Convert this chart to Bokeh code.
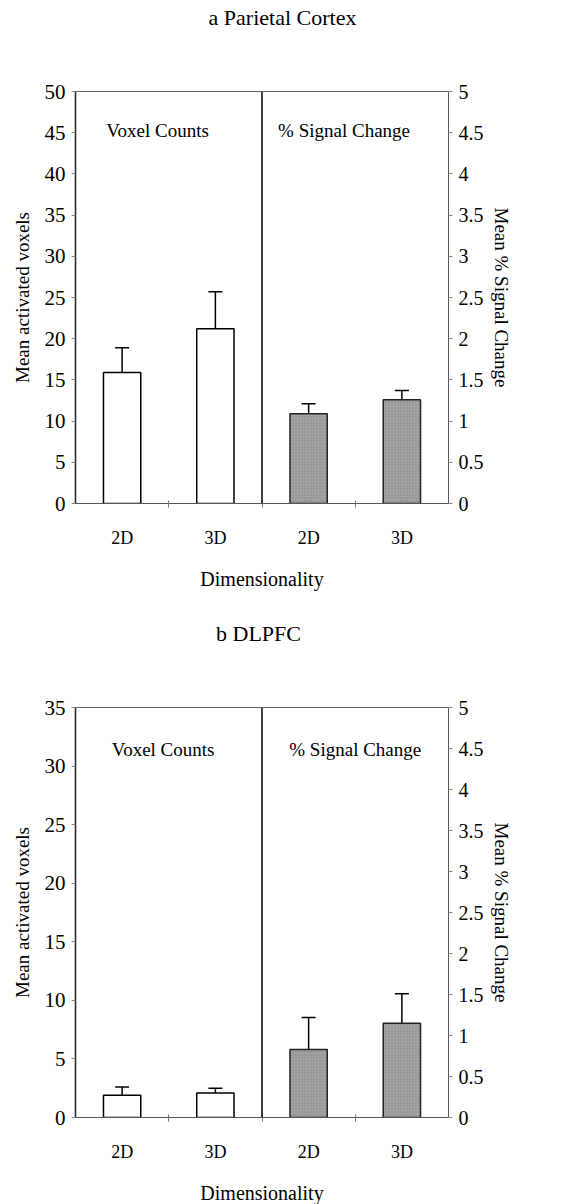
from bokeh.plotting import figure
from bokeh.models import (Range1d, LinearAxis, FixedTicker, Span, Label, Whisker,
                          TeeHead, ColumnDataSource, CustomJSTickFormatter)
from bokeh.core.properties import value
from bokeh.layouts import column
from bokeh.embed import file_html
from bokeh.resources import INLINE

# ---------------- data ----------------
categories = ["2D", "3D", "2D", "3D"]
panel_titles = ["a Parietal Cortex", "b DLPFC"]
panel_texts = ["Voxel Counts", "% Signal Change"]
x_label = "Dimensionality"
left_label = "Mean activated voxels"
right_label = "Mean % Signal Change"

# panel a: Parietal Cortex
a_voxels = [15.9, 21.2]
a_voxels_se = [3.0, 4.5]
a_signal = [1.09, 1.26]
a_signal_se = [0.12, 0.11]
a_left_ticks = [0, 5, 10, 15, 20, 25, 30, 35, 40, 45, 50]

# panel b: DLPFC
b_voxels = [1.9, 2.1]
b_voxels_se = [0.7, 0.4]
b_signal = [0.83, 1.15]
b_signal_se = [0.39, 0.36]
b_left_ticks = [0, 5, 10, 15, 20, 25, 30, 35]

right_ticks = [0, 0.5, 1, 1.5, 2, 2.5, 3, 3.5, 4, 4.5, 5]

FONT = "Liberation Serif"
W = 580
FRAME_LEFT = 75
FRAME_W = 373


def make_title(text, height, cx):
    # frame spans the same horizontal extent as the chart frames (page px coords)
    t = figure(frame_width=FRAME_W, frame_height=height,
               x_range=Range1d(FRAME_LEFT, FRAME_LEFT + FRAME_W),
               y_range=Range1d(0, height), output_backend="svg", toolbar_location=None,
               x_axis_location=None, y_axis_location=None,
               min_border_left=FRAME_LEFT, min_border_right=W - FRAME_LEFT - FRAME_W,
               min_border_top=0, min_border_bottom=0,
               background_fill_color="white", border_fill_color="white")
    t.outline_line_color = None
    t.grid.visible = False
    t.text(x=[cx], y=[height / 2], text=[text], text_font=value(FONT),
           text_font_size=value("22px"), text_align="center",
           text_baseline="middle", text_color="black")
    return t


def make_panel(voxels, voxels_se, signal, signal_se, left_ticks,
               frame_h, border_top, border_bottom, txt_pos):
    n = len(categories)
    xs = [i + 0.5 for i in range(n)]
    p = figure(frame_width=FRAME_W, frame_height=frame_h,
               x_range=Range1d(0, n), y_range=Range1d(0, left_ticks[-1]),
               output_backend="svg", toolbar_location=None,
               min_border_left=FRAME_LEFT, min_border_right=W - FRAME_LEFT - FRAME_W,
               min_border_top=border_top, min_border_bottom=border_bottom,
               background_fill_color="white", border_fill_color="white")
    p.extra_y_ranges = {"right": Range1d(0, right_ticks[-1])}
    p.grid.visible = False
    p.outline_line_color = "#666666"
    p.outline_line_width = 1

    # x axis
    xa = p.xaxis[0]
    xa.ticker = FixedTicker(ticks=xs, minor_ticks=[1, 2, 3])
    xa.formatter = CustomJSTickFormatter(args=dict(labels=categories),
                                         code="return labels[index];")
    xa.major_tick_line_color = None
    xa.major_tick_out = 0
    xa.major_tick_in = 0
    xa.minor_tick_line_color = "#777777"
    xa.minor_tick_out = 4
    xa.minor_tick_in = 3
    xa.axis_line_color = "#555555"
    xa.axis_line_width = 1
    xa.major_label_standoff = 20
    xa.major_label_text_font = FONT
    xa.major_label_text_font_size = "18px"
    xa.major_label_text_color = "black"
    xa.axis_label = x_label
    xa.axis_label_text_font = FONT
    xa.axis_label_text_font_size = "20px"
    xa.axis_label_text_font_style = "normal"
    xa.axis_label_text_color = "black"
    xa.axis_label_standoff = 17

    # left axis
    ya = p.yaxis[0]
    ya.ticker = FixedTicker(ticks=left_ticks)
    ya.minor_tick_line_color = None
    ya.major_tick_out = 4
    ya.major_tick_in = 0
    ya.major_tick_line_color = "#888888"
    ya.axis_line_color = "#222222"
    ya.axis_line_width = 1.5
    ya.major_label_standoff = 6
    ya.major_label_text_font = FONT
    ya.major_label_text_font_size = "21px"
    ya.major_label_text_color = "black"
    ya.axis_label = left_label
    ya.axis_label_text_font = FONT
    ya.axis_label_text_font_size = "19px"
    ya.axis_label_text_font_style = "normal"
    ya.axis_label_text_color = "black"
    ya.axis_label_standoff = 9

    # right axis
    ra = LinearAxis(y_range_name="right", ticker=FixedTicker(ticks=right_ticks),
                    formatter=CustomJSTickFormatter(code="return tick.toString();"))
    ra.minor_tick_line_color = None
    ra.major_tick_out = 4
    ra.major_tick_in = 0
    ra.major_tick_line_color = "#888888"
    ra.axis_line_color = "#555555"
    ra.axis_line_width = 1
    ra.major_label_standoff = 6
    ra.major_label_text_font = FONT
    ra.major_label_text_font_size = "20px"
    ra.major_label_text_color = "black"
    ra.axis_label = right_label
    ra.axis_label_text_font = FONT
    ra.axis_label_text_font_size = "19px"
    ra.axis_label_text_font_style = "normal"
    ra.axis_label_text_color = "black"
    ra.axis_label_standoff = 4
    p.add_layout(ra, "right")

    # voxel count bars (left scale)
    vx = xs[:2]
    p.vbar(x=vx, top=voxels, width=0.4, bottom=0,
           fill_color="white", line_color="black", line_width=1.5)
    vsrc = ColumnDataSource(dict(x=vx, lo=voxels,
                                 hi=[v + e for v, e in zip(voxels, voxels_se)]))
    p.add_layout(Whisker(source=vsrc, base="x", lower="lo", upper="hi",
                         line_color="black", line_width=1.5, lower_head=None,
                         upper_head=TeeHead(size=14, line_color="black", line_width=1.5)))

    # signal change bars (right scale)
    sx = xs[2:]
    p.vbar(x=sx, top=signal, width=0.4, bottom=0, y_range_name="right",
           fill_color="#a3a3a3", line_color="#222222", line_width=1.5,
           hatch_pattern="dot", hatch_color="#6a6a6a", hatch_scale=3,
           hatch_weight=0.8, hatch_alpha=0.6)
    ssrc = ColumnDataSource(dict(x=sx, lo=signal,
                                 hi=[v + e for v, e in zip(signal, signal_se)]))
    p.add_layout(Whisker(source=ssrc, base="x", lower="lo", upper="hi",
                         y_range_name="right",
                         line_color="black", line_width=1.5, lower_head=None,
                         upper_head=TeeHead(size=14, line_color="black", line_width=1.5)))

    # divider between the two measures
    p.add_layout(Span(location=2, dimension="height", line_color="black", line_width=1.5))

    # in-plot labels
    for txt, (tx, ty) in zip(panel_texts, txt_pos):
        p.add_layout(Label(x=tx, y=ty, text=txt, text_font=FONT, text_font_size="19px",
                           text_align="center", text_baseline="middle",
                           text_color="black"))
    return p


t1 = make_title(panel_titles[0], 34, 282)
p1 = make_panel(a_voxels, a_voxels_se, a_signal, a_signal_se, a_left_ticks,
                frame_h=412, border_top=57, border_bottom=111,
                txt_pos=[(0.88, 45.3), (2.88, 45.3)])
t2 = make_title(panel_titles[1], 37, 258)
p2 = make_panel(b_voxels, b_voxels_se, b_signal, b_signal_se, b_left_ticks,
                frame_h=410, border_top=56, border_bottom=78,
                txt_pos=[(0.94, 31.4), (3.0, 31.4)])

layout = column(t1, p1, t2, p2, spacing=0)
open("out.html", "w").write(file_html(layout, INLINE))
